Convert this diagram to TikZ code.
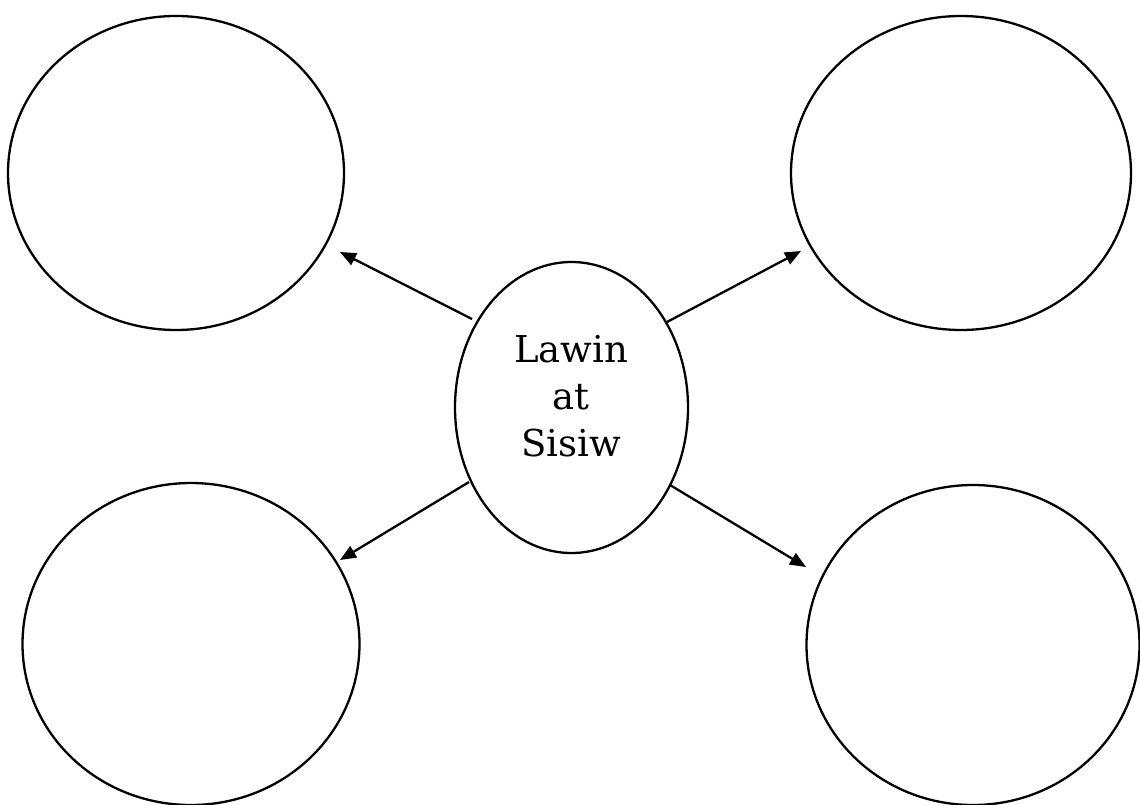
\documentclass[tikz,border=0pt]{standalone}
\usepackage{fontspec}
\setmainfont{DejaVu Serif}
\usetikzlibrary{shapes.geometric,arrows.meta}
\begin{document}
\begin{tikzpicture}[x=1pt,y=-1pt,
  bubble/.style={draw,ellipse,line width=2.3pt,inner sep=0pt},
  link/.style={line width=2.3pt,-{Triangle[length=16pt,width=13pt]}}]
\useasboundingbox (0,0) rectangle (1140,805);
\node[bubble,minimum width=336pt,minimum height=314pt] (tl) at (176,173) {};
\node[bubble,minimum width=340pt,minimum height=314pt] (tr) at (961,173) {};
\node[bubble,minimum width=337pt,minimum height=322pt] (bl) at (191,644) {};
\node[bubble,minimum width=333pt,minimum height=320pt] (br) at (973,645) {};
\node[bubble,minimum width=233pt,minimum height=291pt] (c) at (571.5,407.5) {};
\node[font=\fontsize{37}{47}\selectfont,align=center] (t) at (571,396) {Lawin\\at\\Sisiw};
\coordinate (s1) at (472,319); \coordinate (e1) at (340,252);
\coordinate (s2) at (667,322); \coordinate (e2) at (801,251);
\coordinate (s3) at (469,482); \coordinate (e3) at (340,560);
\coordinate (s4) at (670,485); \coordinate (e4) at (806,567);
\draw[link] (s1) -- (e1);
\draw[link] (s2) -- (e2);
\draw[link] (s3) -- (e3);
\draw[link] (s4) -- (e4);
\end{tikzpicture}
\end{document}
